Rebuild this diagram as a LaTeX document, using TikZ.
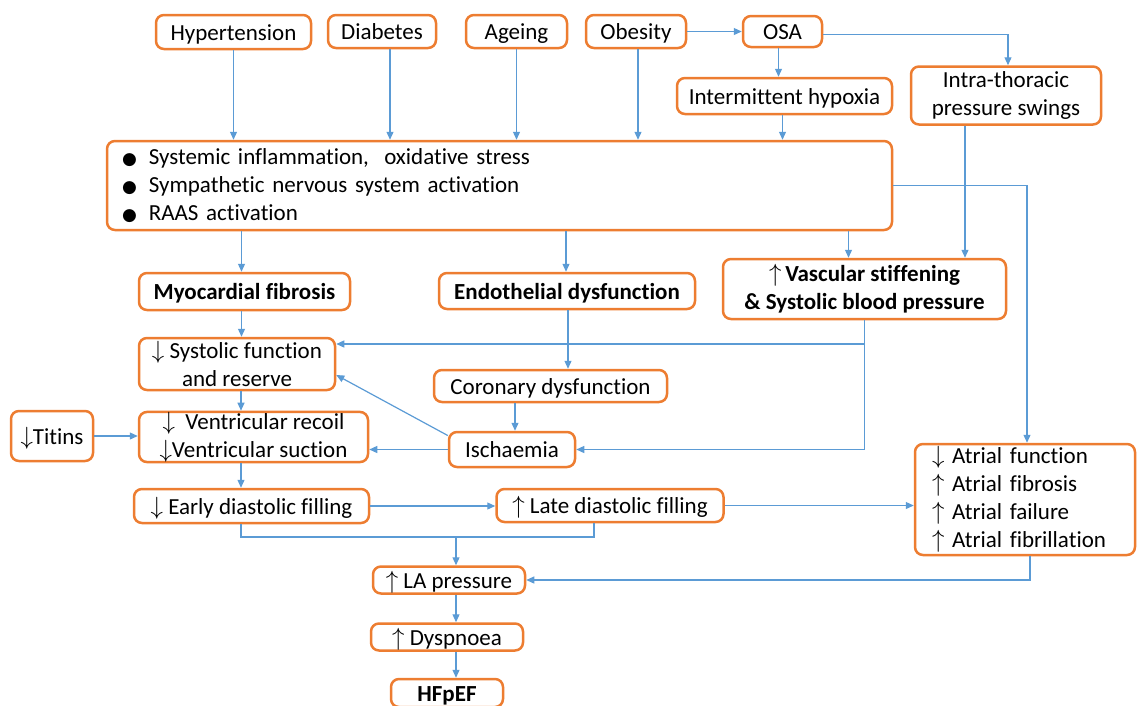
\documentclass[tikz,border=0pt]{standalone}
\usepackage{fontspec}
\setmainfont{Carlito}[Ligatures=NoCommon]
\newfontfamily\dejavu{DejaVu Sans}
\usetikzlibrary{arrows.meta}
\definecolor{bord}{HTML}{ED7D31}
\definecolor{linkblue}{HTML}{5B9BD5}
\tikzset{
 box/.style={draw=bord, line width=2.5pt, rounded corners=8pt, fill=white, inner sep=0pt, align=center, font=\fontsize{23}{28}\selectfont},
 one/.style={text height=16.5pt, text depth=0.5pt},
 bold/.style={font=\fontsize{23}{28}\selectfont\bfseries},
 link/.style={draw=linkblue, line width=1.2pt, -{Triangle[length=8pt,width=7pt]}},
 plain/.style={draw=linkblue, line width=1.2pt},
}
\newcommand{\dn}{$\downarrow$}
\newcommand{\upa}{$\uparrow$}
\newcommand{\bul}{{\dejavu\fontsize{17}{28}\selectfont ●}\hspace{12pt}}
\begin{document}
\begin{tikzpicture}[x=1pt,y=-1pt]
\useasboundingbox (0,0) rectangle (1137,705);
% nodes
\node[box, one, minimum width=155, minimum height=34] (hyp) at (233.5,32) {Hypertension};
\node[box, one, minimum width=108, minimum height=33] (dia) at (382,31.5) {Diabetes};
\node[box, one, minimum width=101, minimum height=33] (age) at (516.5,31.5) {Ageing};
\node[box, one, minimum width=100, minimum height=33] (obe) at (636,31.5) {Obesity};
\node[box, one, minimum width=79, minimum height=31] (osa) at (782.5,31.5) {OSA};
\node[box, one, minimum width=215, minimum height=36] (hyx) at (784.5,96) {Intermittent hypoxia};
\node[box, minimum width=190, minimum height=58] (itp) at (1006,95.5) {Intra-thoracic\\pressure swings};
\node[box, minimum width=785, minimum height=89, text width=755, align=left] (risk) at (499.5,185.5)
  {\bul Systemic inflammation,\ \ oxidative stress\\
   \bul Sympathetic nervous system activation\\
   \bul RAAS activation};
\node[box, one, bold, minimum width=211, minimum height=37] (myo) at (244.5,291.5) {Myocardial fibrosis};
\node[box, one, bold, minimum width=256, minimum height=36] (endo) at (567,291) {Endothelial dysfunction};
\node[box, bold, minimum width=283, minimum height=60] (vas) at (864.5,289) {\upa\,Vascular stiffening\\\&~Systolic blood pressure};
\node[box, minimum width=196, minimum height=52] (sys) at (237,364) {\dn\ Systolic function\\and reserve};
\node[box, one, minimum width=233, minimum height=32] (cor) at (550.5,386) {Coronary dysfunction};
\node[box, one, minimum width=82, minimum height=50] (tit) at (52,436) {\dn Titins};
\node[box, minimum width=229, minimum height=50] (ven) at (253.5,437) {\dn\ \ Ventricular recoil\\\dn Ventricular suction};
\node[box, one, minimum width=126, minimum height=35] (isc) at (512,449.5) {Ischaemia};
\node[box, minimum width=220, minimum height=111, text width=186, align=left] (atr) at (1025,499.5)
  {\dn\ Atrial function\\\upa\ Atrial fibrosis\\\upa\ Atrial failure\\\upa\ Atrial fibrillation};
\node[box, one, minimum width=235, minimum height=34] (early) at (251.5,506) {\dn\ Early diastolic filling};
\node[box, one, minimum width=227, minimum height=33] (late) at (610,505.5) {\upa\ Late diastolic filling};
\node[box, one, minimum width=152, minimum height=27] (la) at (449,580) {\upa\ LA pressure};
\node[box, one, minimum width=152, minimum height=27] (dys) at (447,637) {\upa\ Dyspnoea};
\node[box, one, bold, minimum width=112, minimum height=28] (hf) at (447,693) {HFpEF};
\coordinate (jn) at (456,537);
% connectors
\draw[link] (hyp.south) -- (hyp.south |- risk.north);
\draw[link] ([xshift=8pt]dia.south) -- ([xshift=8pt]dia.south |- risk.north);
\draw[link] (age.south) -- (age.south |- risk.north);
\draw[link] ([xshift=2pt]obe.south) -- ([xshift=2pt]obe.south |- risk.north);
\draw[link] (obe.east) -- (osa.west);
\draw[link] ([xshift=-4pt]osa.south) -- ([xshift=-4pt]osa.south |- hyx.north);
\draw[link] ([yshift=-3pt]osa.east) -| ([xshift=2pt]itp.north);
\draw[link] ([xshift=-2pt]hyx.south) -- ([xshift=-2pt]hyx.south |- risk.north);
\draw[link] ([xshift=-41pt]itp.south) -- ([xshift=-41pt]itp.south |- vas.north);
\draw[link] (risk.east) -| ([xshift=2pt]atr.north);
\draw[link] ([xshift=-3pt]myo.north |- risk.south) -- ([xshift=-3pt]myo.north);
\draw[link] ([xshift=-1pt]endo.north |- risk.south) -- ([xshift=-1pt]endo.north);
\draw[link] ([xshift=-16pt]vas.north |- risk.south) -- ([xshift=-16pt]vas.north);
\draw[link] ([xshift=-3pt]myo.south) -- ([xshift=-3pt]myo.south |- sys.north);
\draw[link] ([xshift=1pt]endo.south) -- ([xshift=1pt]endo.south |- cor.north);
\draw[link] (vas.south) |- (isc.east);
\draw[link] ([yshift=20pt]sys.east -| vas.south) -- ([yshift=20pt]sys.east);
\draw[link] ([xshift=3pt]isc.north |- cor.south) -- ([xshift=3pt]isc.north);
\draw[link] (isc.west) -- (isc.west -| ven.east);
\draw[link] ([yshift=14pt]isc.west) -- ([yshift=-11pt]sys.east);
\draw[link] (tit.east) -- (tit.east -| ven.west);
\draw[link] ([xshift=4pt]sys.south) -- ([xshift=4pt]sys.south |- ven.north);
\draw[link] ([xshift=-12.5pt]ven.south) -- ([xshift=-12.5pt]ven.south |- early.north);
\draw[link] (early.east) -- (early.east -| late.west);
\draw[link] (late.east) -- (late.east -| atr.west);
\draw[plain] ([xshift=-10.5pt]early.south) |- (jn) -| ([xshift=-16pt]late.south);
\draw[link] (jn) -- (jn |- la.north);
\draw[link] ([xshift=5pt]atr.south) |- (la.east);
\draw[link] ([xshift=7pt]la.south) -- ([xshift=7pt]la.south |- dys.north);
\draw[link] ([xshift=9pt]dys.south) -- ([xshift=9pt]dys.south |- hf.north);
\end{tikzpicture}
\end{document}
